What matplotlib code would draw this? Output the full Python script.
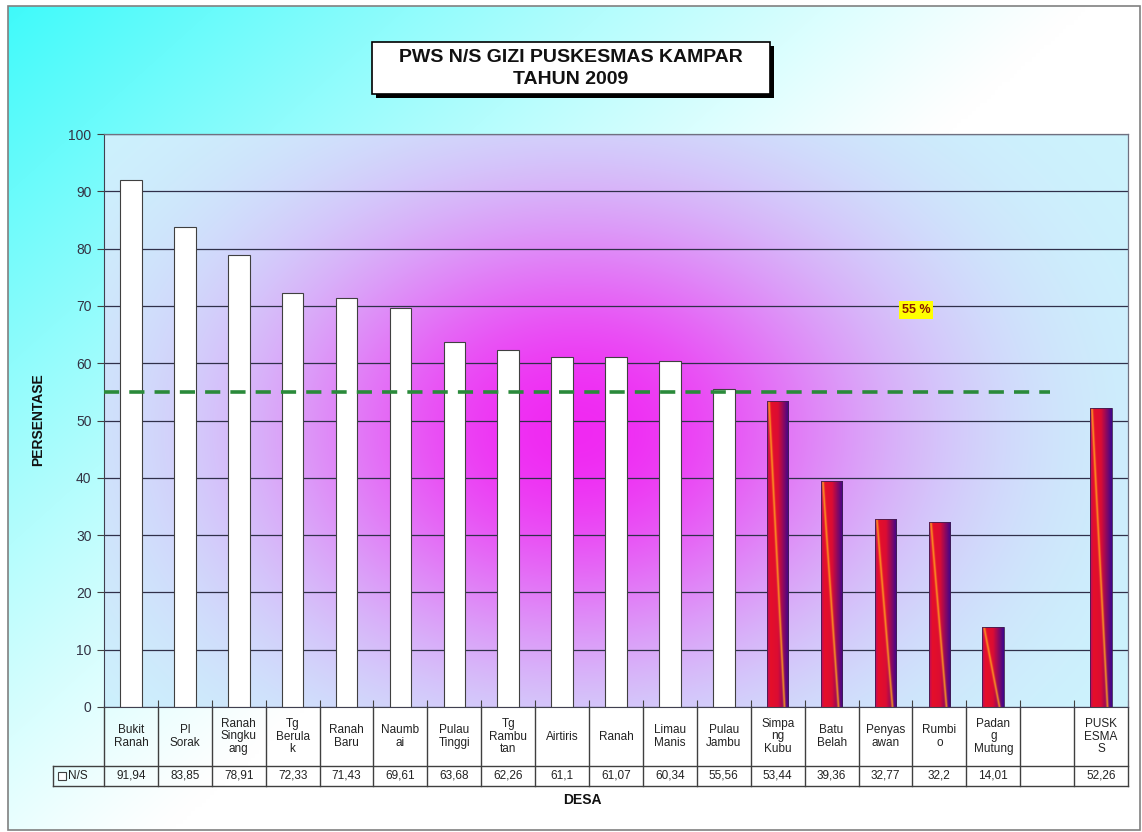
import numpy as np
import matplotlib.pyplot as plt
from matplotlib.patches import Rectangle
from matplotlib.colors import LinearSegmentedColormap

plt.rcParams["font.family"] = ["Liberation Sans", "DejaVu Sans"]

DESA = [
    "Bukit\nRanah", "Pl\nSorak", "Ranah\nSingku\nang", "Tg\nBerula\nk",
    "Ranah\nBaru", "Naumb\nai", "Pulau\nTinggi", "Tg\nRambu\ntan",
    "Airtiris", "Ranah", "Limau\nManis", "Pulau\nJambu", "Simpa\nng\nKubu",
    "Batu\nBelah", "Penyas\nawan", "Rumbi\no", "Padan\ng\nMutung", "",
    "PUSK\nESMA\nS",
]
NS = [
    91.94, 83.85, 78.91, 72.33, 71.43, 69.61, 63.68, 62.26, 61.1, 61.07,
    60.34, 55.56, 53.44, 39.36, 32.77, 32.2, 14.01, np.nan, 52.26,
]
TARGET = 55
YTICKS = list(range(0, 101, 10))

W, H = 1142, 832
AX_L, AX_R, AX_T, AX_B = 104, 1128, 134, 707
ROW1_B, ROW2_B, LEG_L = 766, 786, 53


def fy(y_px):
    # pixel row below the axes -> axes fraction
    return (AX_B - y_px) / (AX_B - AX_T)


def fx(x_px):
    return (x_px - AX_L) / (AX_R - AX_L)


fig = plt.figure(figsize=(W / 100, H / 100), dpi=100)
fig.patch.set_facecolor("white")

# chart-area background: cyan corner fading to white
bg = fig.add_axes([0, 0, 1, 1], zorder=-10)
bg.set_xlim(0, W)
bg.set_ylim(H, 0)
bg.axis("off")
gy, gx = np.mgrid[0:1:200j, 0:1:300j]
t = np.clip(gx * 1.05 + gy * 0.85, 0, 1)
wgt = (1 - t) ** 1.15
cyan = np.array([0.25, 0.98, 0.98])
grad = 1 - wgt[..., None] * (1 - cyan)
bg.imshow(grad, extent=(8, 1140, 830, 6), origin="upper", aspect="auto",
          interpolation="bilinear")
bg.add_patch(Rectangle((8, 6), 1132, 824, fill=False, ec="#808080", lw=1.2))

# title box with drop shadow
bg.add_patch(Rectangle((376, 46), 398, 52, fc="black", ec="none"))
bg.add_patch(Rectangle((372, 42), 398, 52, fc="white", ec="black", lw=1.2))
bg.text(571, 58, "PWS N/S GIZI PUSKESMAS KAMPAR", ha="center", va="center",
        fontsize=14, fontweight="bold", color="#111111")
bg.text(571, 80, "TAHUN 2009", ha="center", va="center",
        fontsize=14, fontweight="bold", color="#111111")

ax = fig.add_axes([AX_L / W, 1 - AX_B / H, (AX_R - AX_L) / W, (AX_B - AX_T) / H])
ax.patch.set_visible(False)

n = len(DESA)
x = np.arange(n)
xlim = (-0.5, n - 0.5)

# plot-area fill: pale cyan with a magenta glow in the middle
py, pxx = np.mgrid[0:1:300j, 0:1:400j]
r = np.sqrt(((pxx - 0.46) / 0.30) ** 2 + ((py - 0.48) / 0.40) ** 2)
glow_w = 0.95 * np.exp(-r ** 2)
base = np.array([0.80, 0.96, 0.99])
glow = np.array([0.95, 0.12, 0.95])
fill = base * (1 - glow_w[..., None]) + glow * glow_w[..., None]
ax.imshow(fill, extent=(xlim[0], xlim[1], 0, 100), origin="lower",
          aspect="auto", interpolation="bilinear", zorder=-2)

ax.set_yticks(YTICKS)
ax.yaxis.grid(True, color="#30304a", lw=0.9)
ax.set_axisbelow(True)

# bars: white at/above the target, red gradient below it
red_cmap = LinearSegmentedColormap.from_list(
    "redbar",
    [(0.0, (0.72, 0.05, 0.40)), (0.15, (0.90, 0.06, 0.16)),
     (0.5, (0.86, 0.05, 0.20)), (1.0, (0.24, 0.02, 0.55))],
)
u = np.linspace(0, 1, 60)[None, :]
v = np.linspace(0, 1, 240)[:, None]
bar_rgb = red_cmap(np.repeat(u, 240, axis=0))[..., :3]
d = u - (0.08 + 0.72 * v)
streak = 0.9 * np.exp(-(d / 0.05) ** 2)
bar_rgb = bar_rgb * (1 - streak[..., None]) + np.array([1.0, 0.62, 0.12]) * streak[..., None]

bw = 0.4
for xi, val in zip(x, NS):
    if np.isnan(val):
        continue
    if val >= TARGET:
        ax.bar(xi, val, width=bw, color="white", edgecolor="#404040", lw=0.8, zorder=2)
    else:
        patch = ax.bar(xi, val, width=bw, color="none", edgecolor="#402050",
                       lw=0.6, zorder=3)[0]
        im = ax.imshow(bar_rgb, extent=(xi - bw / 2, xi + bw / 2, 0, val),
                       origin="upper", aspect="auto", interpolation="bilinear",
                       zorder=2)
        im.set_clip_path(patch)

# target line
ax.axhline(TARGET, xmin=0, xmax=fx(1050), color="#2a8a3a", lw=2.6,
           ls=(0, (4.2, 2.8)), zorder=4)
ax.text(fx(916), fy(310), f"{TARGET} %", transform=ax.transAxes, ha="center",
        va="center", fontsize=9, fontweight="bold", color="#8a1a00",
        bbox=dict(boxstyle="square,pad=0.25", fc="#ffff00", ec="none"), zorder=5)

ax.set_xlim(*xlim)
ax.set_ylim(0, 100)
ax.set_xticks(np.arange(n + 1) - 0.5)
ax.set_xticklabels([])
ax.tick_params(axis="x", direction="in", length=5, color="#404040")
ax.tick_params(axis="y", direction="out", length=5, color="#404040",
               labelsize=10, labelcolor="#333344", pad=4)
for side in ["top", "right"]:
    ax.spines[side].set_color("#707080")
    ax.spines[side].set_linewidth(0.9)
ax.spines["left"].set_color("#404050")
ax.spines["bottom"].set_color("#404050")

# data table under the axis
tx = ax.get_xaxis_transform()
line_kw = dict(color="#404040", lw=1.0, clip_on=False)
for b in np.arange(n + 1) - 0.5:
    ax.plot([b, b], [0, fy(ROW2_B)], transform=tx, **line_kw)
ax.plot([fx(LEG_L), 1], [fy(ROW1_B)] * 2, transform=ax.transAxes, **line_kw)
ax.plot([fx(LEG_L), 1], [fy(ROW2_B)] * 2, transform=ax.transAxes, **line_kw)
ax.plot([fx(LEG_L)] * 2, [fy(ROW1_B), fy(ROW2_B)], transform=ax.transAxes, **line_kw)

row1_mid = fy((AX_B + ROW1_B) / 2)
row2_mid = fy((ROW1_B + ROW2_B) / 2)
for xi, name, val in zip(x, DESA, NS):
    ax.text(xi, row1_mid, name, transform=tx, ha="center", va="center",
            fontsize=8.5, color="#222222", linespacing=1.1)
    if not np.isnan(val):
        ax.text(xi, row2_mid, f"{val:g}".replace(".", ","), transform=tx,
                ha="center", va="center", fontsize=8.5, color="#222222")

ax.add_patch(Rectangle((fx(58), fy(780)), fx(66) - fx(58), fy(772) - fy(780),
                       transform=ax.transAxes, fc="white", ec="#404040",
                       lw=0.8, clip_on=False))
ax.text(fx(68), row2_mid, "N/S", transform=ax.transAxes, ha="left",
        va="center", fontsize=8.5, color="#222222")

fig.text(38 / W, 1 - 420 / H, "PERSENTASE", rotation=90, ha="center",
         va="center", fontsize=10, fontweight="bold", color="#111111")
fig.text(582 / W, 1 - 800 / H, "DESA", ha="center", va="center",
         fontsize=10, fontweight="bold", color="#111111")

fig.savefig("out.png", dpi=100)
